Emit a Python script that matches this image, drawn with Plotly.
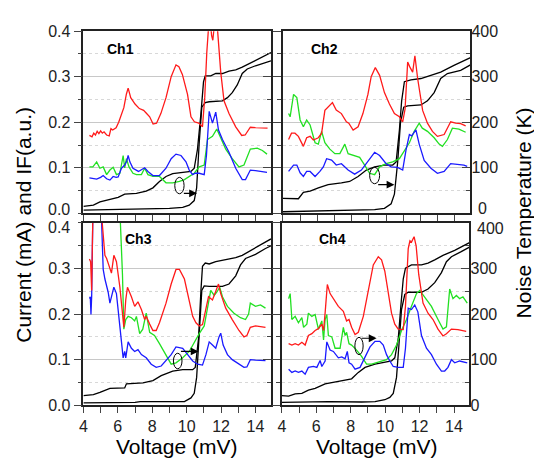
import plotly.graph_objects as go

# ---------------- data ----------------
# Ch1
ch1_red_v = [4.35,4.5,4.6,4.7,4.8,4.9,5.0,5.1,5.2,5.35,5.5,5.6,5.7,5.9,6.05,6.2,6.35,6.5,6.6,6.75,7.0,7.25,7.5,7.7,7.85,8.05,8.25,8.5,8.8,9.1,9.38,9.55,9.75,10.05,10.25,10.45,10.7,10.92,11.05,11.17,11.25,11.33,11.45,11.52,11.6,11.68,11.8,11.98,12.17,12.46,12.85,13.2,13.4,13.7,14.0,14.35,14.7]
ch1_red_t = [171,168,176,172,180,175,181,176,179,172,170,186,183,188,200,214,232,262,275,254,240,230,226,218,212,196,198,219,254,300,326,322,305,261,212,201,198,190,254,353,400,440,390,380,410,440,400,310,247,219,190,171,172,189,188,187,187]
ch1_blue_v = [4.35,4.5,4.77,5.0,5.15,5.35,5.54,5.73,5.9,6.02,6.21,6.4,6.52,6.6,6.7,6.88,7.2,7.56,7.75,8.04,8.42,8.8,9.1,9.38,9.67,9.96,10.15,10.35,10.5,10.73,11.02,11.15,11.31,11.5,11.69,11.85,12.08,12.46,12.85,13.23,13.42,13.7,14.0,14.67]
ch1_blue_t = [78,77,75,79,83,76,73,81,79,80,99,106,115,127,113,99,92,100,92,83,83,99,120,130,127,113,95,85,88,88,85,127,224,198,222,183,162,134,99,74,74,95,94,90]
ch1_green_v = [4.35,4.55,4.77,4.96,5.15,5.35,5.54,5.73,5.92,6.12,6.31,6.4,6.5,6.65,6.88,7.08,7.37,7.56,7.75,8.04,8.42,8.8,9.19,9.58,9.87,10.15,10.44,10.73,11.02,11.21,11.5,11.75,11.98,12.27,12.65,13.04,13.33,13.7,14.1,14.4,14.67]
ch1_green_t = [102,102,113,99,102,85,95,101,85,88,127,100,120,102,88,85,85,99,85,81,81,67,67,70,74,81,88,102,106,162,169,185,166,141,120,102,106,141,143,138,130]
ch1_pump_v = [4.0,4.58,4.96,5.54,6.02,6.4,7.08,7.65,8.04,8.42,8.8,9.19,9.77,10.25,10.44,10.63,10.83,10.98,11.08,11.4,11.69,12.08,12.46,12.85,13.23,14.0,14.9]
ch1_pump_i = [0.0155,0.018,0.025,0.03,0.035,0.042,0.044,0.049,0.056,0.07,0.081,0.087,0.09,0.092,0.099,0.141,0.219,0.289,0.302,0.302,0.307,0.307,0.312,0.315,0.321,0.335,0.353]
ch1_unp_v = [4.0,7.08,9.0,9.77,10.15,10.44,10.58,10.73,10.88,11.08,11.31,12.08,12.37,12.65,12.94,13.23,13.52,14.0,14.9]
ch1_unp_i = [0.007,0.009,0.011,0.013,0.018,0.028,0.056,0.155,0.233,0.243,0.245,0.247,0.254,0.265,0.282,0.307,0.317,0.324,0.335]

# Ch2
ch2_red_v = [4.33,4.5,4.7,4.9,5.19,5.38,5.58,5.77,6.06,6.25,6.44,6.63,6.88,7.1,7.4,7.69,7.83,8.08,8.37,8.65,8.94,9.13,9.37,9.62,9.9,10.19,10.48,10.77,10.96,11.1,11.25,11.38,11.54,11.67,11.83,12.12,12.4,12.69,12.98,13.37,13.75,14.04,14.33,14.62]
ch2_red_t = [162,176,176,169,147,166,169,161,166,176,226,233,243,227,219,201,198,183,190,219,261,300,320,303,265,240,219,212,201,229,332,321,310,346,296,226,198,180,169,173,201,198,197,192]
ch2_green_v = [4.33,4.42,4.62,4.81,5.0,5.19,5.38,5.58,5.87,6.06,6.25,6.44,6.73,7.02,7.31,7.6,7.79,8.08,8.46,8.75,9.04,9.33,9.62,10.0,10.38,10.77,11.06,11.35,11.63,11.92,12.1,12.4,12.79,13.08,13.27,13.56,13.85,14.23,14.62]
ch2_green_t = [219,212,261,254,205,190,205,194,155,152,180,155,141,131,131,152,131,127,123,106,88,85,102,109,113,120,138,155,180,198,187,180,166,152,147,162,187,185,178]
ch2_blue_v = [4.33,4.62,4.81,5.0,5.19,5.38,5.58,5.87,6.15,6.35,6.54,6.83,7.1,7.4,7.79,8.17,8.56,8.94,9.33,9.62,10.0,10.29,10.67,10.96,11.15,11.35,11.48,11.73,11.92,12.21,12.6,12.98,13.37,13.75,14.13,14.52,14.71]
ch2_blue_t = [92,106,106,89,81,92,92,81,92,102,120,117,106,109,95,86,95,113,134,127,109,102,101,95,138,173,170,183,152,116,99,88,92,109,107,106,103]
ch2_pump_v = [4.0,4.9,5.19,5.58,6.06,6.63,7.4,7.88,8.37,8.85,9.33,9.9,10.38,10.58,10.77,10.9,11.06,11.44,12.02,12.6,13.17,13.94,14.9]
ch2_pump_i = [0.033,0.032,0.046,0.049,0.056,0.063,0.067,0.07,0.081,0.095,0.102,0.106,0.106,0.113,0.183,0.247,0.289,0.293,0.296,0.303,0.31,0.325,0.342]
ch2_unp_v = [4.0,8.56,9.33,9.9,10.29,10.48,10.67,10.83,11.02,11.25,12.02,12.4,12.79,13.17,13.56,14.33,14.9]
ch2_unp_i = [0.0035,0.006,0.008,0.011,0.021,0.042,0.113,0.198,0.233,0.236,0.238,0.247,0.265,0.296,0.307,0.314,0.326]

# Ch3
ch3_red_v = [4.35,4.42,4.48,4.55,5.05,5.1,5.25,5.35,5.5,5.63,5.77,5.92,6.12,6.27,6.35,6.46,6.56,6.79,6.98,7.17,7.37,7.56,7.65,7.85,8.04,8.23,8.42,8.8,9.1,9.38,9.58,9.87,10.15,10.35,10.54,10.73,10.92,11.12,11.27,11.5,11.69,11.85,11.98,12.27,12.65,13.04,13.33,13.5,13.7,14.0,14.58]
ch3_red_t = [321,315,252,420,420,400,329,322,305,290,329,315,259,195,171,231,259,238,217,227,210,188,195,178,164,164,181,224,266,298,298,277,231,195,181,174,177,210,238,231,252,266,245,213,188,164,150,153,171,174,171]
ch3_blue_v = [4.35,4.4,4.44,4.48,4.55,5.0,5.06,5.15,5.25,5.44,5.54,5.63,5.77,5.92,6.12,6.31,6.4,6.46,6.6,6.79,6.98,7.17,7.37,7.65,7.94,8.23,8.52,8.8,9.1,9.38,9.77,10.06,10.35,10.63,10.92,11.12,11.31,11.5,11.69,11.88,11.98,12.12,12.37,12.65,13.04,13.33,13.5,13.7,14.0,14.58]
ch3_blue_t = [234,238,199,238,420,420,400,298,277,248,224,238,259,245,174,104,118,104,139,125,118,122,111,104,90,83,86,97,111,128,125,111,97,90,88,111,139,132,125,150,158,132,111,100,90,83,84,100,99,98]
ch3_green_v = [6.1,6.15,6.27,6.35,6.46,6.6,6.79,6.98,7.08,7.27,7.45,7.65,7.85,8.13,8.42,8.8,9.1,9.38,9.77,10.15,10.44,10.73,11.02,11.21,11.4,11.6,11.75,11.92,12.08,12.37,12.75,13.13,13.42,13.6,13.7,14.0,14.29,14.58]
ch3_green_t = [420,400,287,167,188,195,192,185,195,157,167,202,160,153,135,111,90,93,104,118,139,157,174,210,252,241,248,259,238,217,202,192,188,200,224,217,220,213]
ch3_pump_v = [4.0,4.58,4.96,5.54,6.4,6.5,7.46,8.04,8.52,9.19,9.77,10.35,10.5,10.69,10.83,10.92,11.08,11.31,11.69,12.27,12.85,13.23,14.0,14.9]
ch3_pump_i = [0.021,0.023,0.028,0.037,0.038,0.047,0.049,0.054,0.065,0.075,0.078,0.078,0.083,0.146,0.252,0.305,0.312,0.31,0.315,0.319,0.324,0.329,0.345,0.365]
ch3_unp_v = [4.0,7.0,7.3,9.0,9.87,10.25,10.44,10.58,10.73,10.88,11.02,11.31,12.08,12.46,12.85,13.13,13.42,14.0,14.58,14.9]
ch3_unp_i = [0.005,0.006,0.008,0.007,0.008,0.016,0.026,0.061,0.146,0.252,0.262,0.261,0.261,0.266,0.284,0.308,0.322,0.331,0.344,0.35]

# Ch4
ch4_red_v = [4.39,4.58,4.77,4.96,5.16,5.35,5.54,5.74,5.93,6.12,6.32,6.42,6.51,6.64,6.8,6.99,7.28,7.57,7.76,7.9,8.05,8.25,8.44,8.73,9.02,9.31,9.6,9.79,9.98,10.18,10.37,10.56,10.76,11.05,11.18,11.34,11.44,11.53,11.68,11.8,11.95,12.2,12.49,12.78,13.07,13.36,13.56,13.85,14.23,14.71]
ch4_red_t = [135,132,135,132,138,132,153,157,164,168,178,164,202,265,245,234,217,206,185,188,171,155,160,195,252,308,326,319,294,245,202,178,167,166,217,344,361,358,370,350,287,224,202,188,167,152,157,167,166,162]
ch4_green_v = [4.39,4.48,4.58,4.77,4.96,5.16,5.26,5.45,5.54,5.74,5.93,6.12,6.32,6.42,6.51,6.61,6.7,6.9,7.09,7.38,7.57,7.67,7.76,7.9,8.05,8.34,8.63,8.92,9.21,9.5,9.79,10.08,10.37,10.66,10.95,11.24,11.53,11.82,12.01,12.3,12.69,13.07,13.36,13.56,13.75,13.94,14.14,14.33,14.52,14.77]
ch4_green_t = [234,245,188,195,181,192,171,178,202,195,199,167,185,143,188,199,153,150,125,125,171,153,160,135,132,121,107,90,90,93,97,100,111,132,164,188,217,245,252,238,217,188,167,172,255,234,241,234,238,224]
ch4_blue_v = [4.39,4.58,4.77,4.96,5.16,5.35,5.54,5.83,6.03,6.22,6.32,6.51,6.61,6.8,6.99,7.28,7.48,7.67,7.8,7.9,8.05,8.25,8.54,8.83,9.12,9.41,9.69,9.89,10.08,10.27,10.47,10.76,11.05,11.18,11.34,11.53,11.72,11.9,12.11,12.4,12.69,12.98,13.27,13.46,13.65,13.85,14.04,14.33,14.77]
ch4_blue_t = [79,72,75,72,75,68,83,85,83,98,85,97,139,121,118,104,106,102,118,93,90,79,83,104,128,140,140,132,111,97,85,83,83,125,213,210,220,205,153,125,111,90,75,75,83,100,93,97,93]
ch4_pump_v = [4.0,4.39,4.77,5.16,5.54,5.93,6.51,7.09,7.67,8.05,8.44,8.83,9.41,9.98,10.37,10.56,10.76,10.91,11.05,11.18,11.53,12.11,12.49,12.88,13.36,14.04,14.9]
ch4_pump_i = [0.021,0.02,0.025,0.026,0.033,0.037,0.047,0.051,0.054,0.058,0.072,0.083,0.09,0.095,0.097,0.104,0.146,0.217,0.277,0.301,0.308,0.308,0.312,0.319,0.329,0.34,0.357]
ch4_unp_v = [4.0,6.7,8.63,9.41,9.98,10.27,10.47,10.66,10.8,10.95,11.14,11.34,12.11,12.49,12.88,13.27,13.56,13.85,14.42,14.9]
ch4_unp_i = [0.006,0.008,0.007,0.008,0.012,0.017,0.026,0.061,0.132,0.21,0.243,0.248,0.248,0.255,0.269,0.291,0.315,0.326,0.337,0.347]

channel_names = ["Ch1", "Ch2", "Ch3", "Ch4"]
x_ticks = [4, 6, 8, 10, 12, 14]
left_ticks = [0.0, 0.1, 0.2, 0.3, 0.4]
right_ticks = [0, 100, 200, 300, 400]

# ellipse marker (center V, center I, rx, ry) and arrow (start V, end V, I)
ellipses = [(9.58, 0.061, 0.27, 0.018), (9.33, 0.083, 0.29, 0.018),
            (9.48, 0.097, 0.25, 0.017), (8.48, 0.130, 0.24, 0.019)]
arrows = [(9.75, 10.6, 0.044), (9.45, 10.48, 0.063),
          (9.58, 10.69, 0.118), (8.55, 9.5, 0.147)]

channels = [
    dict(red=(ch1_red_v, ch1_red_t), green=(ch1_green_v, ch1_green_t), blue=(ch1_blue_v, ch1_blue_t),
         pump=(ch1_pump_v, ch1_pump_i), unp=(ch1_unp_v, ch1_unp_i)),
    dict(red=(ch2_red_v, ch2_red_t), green=(ch2_green_v, ch2_green_t), blue=(ch2_blue_v, ch2_blue_t),
         pump=(ch2_pump_v, ch2_pump_i), unp=(ch2_unp_v, ch2_unp_i)),
    dict(red=(ch3_red_v, ch3_red_t), green=(ch3_green_v, ch3_green_t), blue=(ch3_blue_v, ch3_blue_t),
         pump=(ch3_pump_v, ch3_pump_i), unp=(ch3_unp_v, ch3_unp_i)),
    dict(red=(ch4_red_v, ch4_red_t), green=(ch4_green_v, ch4_green_t), blue=(ch4_blue_v, ch4_blue_t),
         pump=(ch4_pump_v, ch4_pump_i), unp=(ch4_unp_v, ch4_unp_i)),
]

# ---------------- layout helpers ----------------
W, H = 534, 473
def px(x):
    return x / W
def py(y):
    return 1 - y / H

# panel pixel boxes (left, right, top, bottom)
boxes = [(80, 269, 24, 213), (281, 470, 24, 213), (80, 269, 223, 412), (280, 469, 223, 412)]

FONT = "Liberation Sans, Arial, sans-serif"
TICKC = "#222"
TFS = 16
fig = go.Figure()
layout = dict(
    width=W, height=H, margin=dict(l=0, r=0, t=0, b=0),
    paper_bgcolor="white", plot_bgcolor="white", showlegend=False,
    font=dict(family=FONT, size=TFS, color=TICKC),
    annotations=[], shapes=[],
)

colors = dict(red="#ff1a1a", green="#22e022", blue="#1a1aff")

# tick labels that are nudged away from the neighbouring panel (pixel y)
edge_labels = {
    1: ("left", left_ticks[0], "0.0", 209),
    3: ("left", left_ticks[-1], "0.4", 228),
    2: ("right", right_ticks[0], "0", 208),
    4: ("right", right_ticks[-1], "400", 229),
}

for i, ch in enumerate(channels):
    n = i + 1
    nr = i + 5
    l, r, t, b = boxes[i]
    xd = [px(l), px(r)]
    yd = [py(b), py(t)]
    xa = "x" if n == 1 else f"x{n}"
    ya = "y" if n == 1 else f"y{n}"
    yr = f"y{nr}"
    bottom = n in (3, 4)
    leftlab = n in (1, 3)
    side, skip_val, skip_txt, lab_y = edge_labels[n]
    lt = [v for v in left_ticks if not (side == "left" and v == skip_val)]
    rt = [v for v in right_ticks if not (side == "right" and v == skip_val)]
    layout[f"xaxis{n}" if n > 1 else "xaxis"] = dict(
        domain=xd, anchor=ya, range=[4, 14.9], tickvals=x_ticks,
        showticklabels=bottom, ticks="outside", ticklen=6, tickwidth=1.3,
        minor=dict(dtick=1, tick0=4, ticks="outside", ticklen=6, tickwidth=1.3, showgrid=False),
        showline=True, linecolor="#222", linewidth=1.6, mirror=True,
        showgrid=False, zeroline=False, tickfont=dict(size=TFS),
    )
    layout[f"yaxis{n}" if n > 1 else "yaxis"] = dict(
        domain=yd, anchor=xa, range=[0, 0.4], tickvals=lt, tickformat=".1f",
        showticklabels=leftlab, ticks="outside", ticklen=8, tickwidth=1.3,
        minor=dict(tickvals=[0.0, 0.05, 0.1, 0.15, 0.2, 0.25, 0.3, 0.35, 0.4], ticks="outside",
                   ticklen=4, tickwidth=1.2, showgrid=True, gridcolor="#d8d8d8",
                   griddash="dot", gridwidth=1),
        showgrid=True, gridcolor="#c8c8c8", gridwidth=1,
        showline=True, linecolor="#222", linewidth=1.6, mirror=True,
        zeroline=False, tickfont=dict(size=TFS),
    )
    layout[f"yaxis{nr}"] = dict(
        overlaying=ya, anchor=xa, side="right", range=[0, 400], tickvals=rt,
        showticklabels=not leftlab, ticks="inside", ticklen=8, tickwidth=1.3,
        minor=dict(dtick=50, tick0=0, ticks="inside", ticklen=4, tickwidth=1.2, showgrid=False),
        showgrid=False, zeroline=False, showline=False, tickfont=dict(size=TFS),
    )
    # nudged edge tick label
    if side == "left":
        layout["annotations"].append(dict(x=px(69), y=py(lab_y), xref="paper", yref="paper",
                                          text=skip_txt, showarrow=False, xanchor="right",
                                          yanchor="middle", font=dict(size=TFS, color=TICKC)))
    else:
        layout["annotations"].append(dict(x=px(r + 6), y=py(lab_y), xref="paper", yref="paper",
                                          text=skip_txt, showarrow=False, xanchor="left",
                                          yanchor="middle", font=dict(size=TFS, color=TICKC)))
    # I-V curves (left axis)
    for key in ("unp", "pump"):
        v, cur = ch[key]
        fig.add_trace(go.Scatter(x=v, y=cur, mode="lines", xaxis=xa, yaxis=ya,
                                 line=dict(color="black", width=1.3), hoverinfo="skip"))
    # noise temperature curves (right axis)
    for key in ("green", "blue", "red"):
        v, tk = ch[key]
        fig.add_trace(go.Scatter(x=v, y=tk, mode="lines", xaxis=xa, yaxis=yr,
                                 line=dict(color=colors[key], width=1.3), hoverinfo="skip"))
    # ellipse + arrow
    cx, cy, rx, ry = ellipses[i]
    layout["shapes"].append(dict(type="circle", xref=xa, yref=ya, x0=cx - rx, x1=cx + rx,
                                 y0=cy - ry, y1=cy + ry, line=dict(color="black", width=1)))
    a0, a1, ay = arrows[i]
    layout["annotations"].append(dict(x=a1, y=ay, ax=a0, ay=ay, xref=xa, yref=ya, axref=xa, ayref=ya,
                                      text="", showarrow=True, arrowhead=2, arrowsize=1.3,
                                      arrowwidth=1.2, arrowcolor="black"))
    # channel label
    lab_pos = [(102, 43), (307, 43), (120, 240), (315, 240)][i]
    layout["annotations"].append(dict(x=px(lab_pos[0]), y=py(lab_pos[1]), xref="paper", yref="paper",
                                      text=f"<b>{channel_names[i]}</b>", showarrow=False,
                                      xanchor="left", yanchor="middle",
                                      font=dict(size=14, color="black")))

# axis titles
layout["annotations"] += [
    dict(x=px(20), y=py(225), xref="paper", yref="paper", text="Current (mA) and IF(a.u.)",
         textangle=-90, showarrow=False, font=dict(size=21, color="black"),
         xanchor="center", yanchor="middle"),
    dict(x=px(523), y=py(213), xref="paper", yref="paper", text="Noise Temperature (K)",
         textangle=-90, showarrow=False, font=dict(size=21, color="black"),
         xanchor="center", yanchor="middle"),
    dict(x=px(174), y=py(455), xref="paper", yref="paper", text="Voltage (mV)",
         showarrow=False, font=dict(size=21, color="black"), xanchor="center", yanchor="middle"),
    dict(x=px(375), y=py(455), xref="paper", yref="paper", text="Voltage (mV)",
         showarrow=False, font=dict(size=21, color="black"), xanchor="center", yanchor="middle"),
]

fig.update_layout(**layout)
fig.write_html("out.html", config={"displayModeBar": False},
               post_script="document.body.style.margin='0px';document.body.style.padding='0px';")
